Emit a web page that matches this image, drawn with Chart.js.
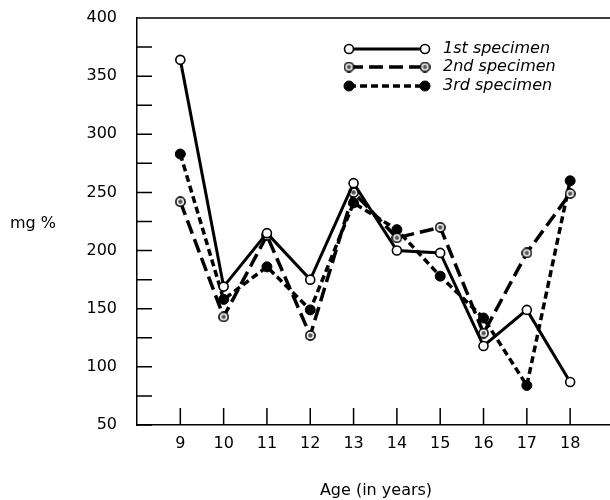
<!DOCTYPE html>
<html>
<head>
<meta charset="utf-8">
<script src="https://cdn.jsdelivr.net/npm/chart.js@4"></script>
<style>
  html, body { margin: 0; padding: 0; background: #fff; overflow: hidden; }
  #wrap { width: 610px; height: 500px; }
</style>
</head>
<body>
<div id="wrap"><canvas id="chart" width="610" height="500"></canvas></div>
<script>
var ages = [9, 10, 11, 12, 13, 14, 15, 16, 17, 18];
var first = [364, 169, 215, 175, 258, 200, 198, 118, 149, 87];
var second = [242, 143, 213, 127, 250, 211, 220, 129, 198, 249];
var third = [283, 158, 186, 149, 241, 218, 178, 142, 84, 260];
var seriesNames = ['1st specimen', '2nd specimen', '3rd specimen'];
var yTickLabels = [50, 100, 150, 200, 250, 300, 350, 400];

var FONT = '"DejaVu Sans", sans-serif';

function toPoints(values) {
    return values.map(function (v, i) { return { x: ages[i], y: v }; });
}

// ring with a dot in the middle, used for the 2nd specimen
function ringPoint() {
    var c = document.createElement('canvas');
    c.width = 11; c.height = 11;
    var g = c.getContext('2d');
    g.beginPath(); g.arc(5.5, 5.5, 4.6, 0, Math.PI * 2);
    g.fillStyle = '#fff'; g.fill();
    g.lineWidth = 1.6; g.strokeStyle = '#000'; g.stroke();
    g.beginPath(); g.arc(5.5, 5.5, 2.2, 0, Math.PI * 2);
    g.fillStyle = '#555'; g.fill();
    return c;
}
var ring = ringPoint();

// inward tick marks, top border, legend and axis titles
var decorations = {
    id: 'decorations',
    afterDraw: function (chart) {
        var ctx = chart.ctx, a = chart.chartArea;
        var xs = chart.scales.x, ys = chart.scales.y;
        ctx.save();
        ctx.strokeStyle = '#000';
        ctx.lineWidth = 1.5;
        ctx.beginPath();
        ctx.moveTo(a.left, a.top); ctx.lineTo(chart.width, a.top);
        ys.ticks.forEach(function (t) {
            var y = ys.getPixelForValue(t.value);
            ctx.moveTo(a.left, y); ctx.lineTo(a.left + 15, y);
        });
        xs.ticks.forEach(function (t) {
            var x = xs.getPixelForValue(t.value);
            ctx.moveTo(x, a.bottom); ctx.lineTo(x, a.bottom - 17);
        });
        ctx.stroke();

        // legend
        var rows = [49, 67, 86];
        chart.data.datasets.forEach(function (ds, i) {
            var y = rows[i], x0 = 349, x1 = 425;
            ctx.beginPath();
            ctx.setLineDash(ds.borderDash || []);
            ctx.lineWidth = ds.borderWidth;
            ctx.moveTo(x0, y); ctx.lineTo(x1, y);
            ctx.stroke();
            ctx.setLineDash([]);
            [x0, x1].forEach(function (px) {
                if (ds.pointStyle === 'circle') {
                    ctx.beginPath();
                    ctx.arc(px, y, ds.pointRadius, 0, Math.PI * 2);
                    ctx.fillStyle = ds.pointBackgroundColor; ctx.fill();
                    ctx.lineWidth = ds.pointBorderWidth; ctx.stroke();
                } else {
                    ctx.drawImage(ds.pointStyle, px - 5.5, y - 5.5);
                }
            });
            ctx.fillStyle = '#000';
            ctx.font = 'italic 16px ' + FONT;
            ctx.textBaseline = 'middle';
            ctx.textAlign = 'left';
            ctx.fillText(ds.label, 443, y);
        });

        ctx.fillStyle = '#000';
        ctx.textBaseline = 'middle';
        ctx.textAlign = 'center';
        ctx.font = '16px ' + FONT;
        ctx.fillText('mg %', 33, 224);
        ctx.fillText('Age (in years)', 376, 491);
        ctx.restore();
    }
};

var ctx = document.getElementById('chart').getContext('2d');
new Chart(ctx, {
    type: 'line',
    data: {
        datasets: [{
            label: seriesNames[0],
            data: toPoints(first),
            borderColor: '#000',
            borderWidth: 3,
            pointStyle: 'circle',
            pointRadius: 4.5,
            pointBackgroundColor: '#fff',
            pointBorderColor: '#000',
            pointBorderWidth: 1.6
        }, {
            label: seriesNames[1],
            data: toPoints(second),
            borderColor: '#000',
            borderWidth: 3.5,
            borderDash: [14, 6],
            pointStyle: ring,
            pointRadius: 5
        }, {
            label: seriesNames[2],
            data: toPoints(third),
            borderColor: '#000',
            borderWidth: 3.5,
            borderDash: [7, 4],
            pointStyle: 'circle',
            pointRadius: 5,
            pointBackgroundColor: '#000',
            pointBorderColor: '#000',
            pointBorderWidth: 1
        }]
    },
    options: {
        responsive: false,
        animation: false,
        layout: { autoPadding: false, padding: { top: 18, right: 0, left: 0, bottom: 0 } },
        plugins: { legend: { display: false }, tooltip: { enabled: false } },
        scales: {
            x: {
                type: 'linear',
                min: 8,
                max: 18.92,
                afterBuildTicks: function (scale) {
                    scale.ticks = ages.map(function (v) { return { value: v }; });
                },
                afterFit: function (scale) {
                    scale.height = 75;
                    scale.paddingLeft = 0;
                    scale.paddingRight = 0;
                },
                grid: { display: false, drawTicks: false },
                border: { display: true, color: '#000', width: 1.5 },
                ticks: {
                    padding: 9,
                    color: '#000',
                    font: { family: FONT, size: 16 },
                    maxRotation: 0,
                    autoSkip: false
                }
            },
            y: {
                min: 50,
                max: 400,
                afterBuildTicks: function (scale) {
                    var t = [];
                    for (var v = 50; v <= 400; v += 25) t.push({ value: v });
                    scale.ticks = t;
                },
                afterFit: function (scale) {
                    scale.width = 137;
                    scale.paddingTop = 0;
                    scale.paddingBottom = 0;
                },
                grid: { display: false, drawTicks: false },
                border: { display: true, color: '#000', width: 1.5 },
                ticks: {
                    padding: 20,
                    color: '#000',
                    font: { family: FONT, size: 16 },
                    autoSkip: false,
                    callback: function (v) {
                        return yTickLabels.indexOf(v) >= 0 ? String(v) : '';
                    }
                }
            }
        }
    },
    plugins: [decorations]
});
</script>
</body>
</html>
